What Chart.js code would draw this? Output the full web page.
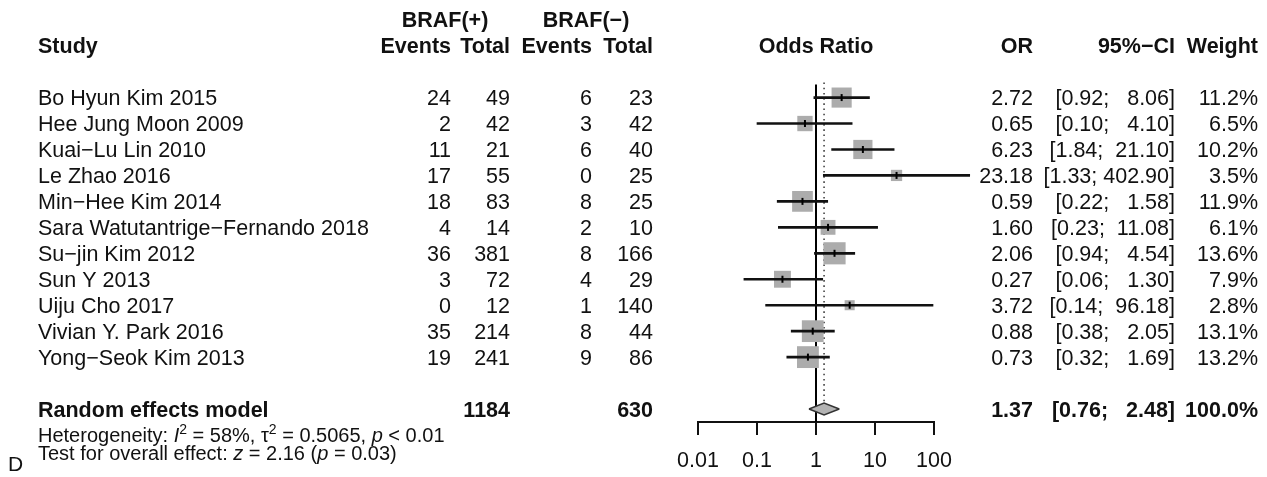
<!DOCTYPE html>
<html>
<head>
<meta charset="utf-8">
<title>BRAF forest plot</title>
<script src="https://cdn.jsdelivr.net/npm/chart.js"></script>
<style>
  html, body { margin: 0; padding: 0; background: #fff; }
  canvas { display: block; }
</style>
</head>
<body>
<canvas id="forest" width="1267" height="477"></canvas>
<script>
const studies = [
  'Bo Hyun Kim 2015', 'Hee Jung Moon 2009', 'Kuai\u2212Lu Lin 2010', 'Le Zhao 2016',
  'Min\u2212Hee Kim 2014', 'Sara Watutantrige\u2212Fernando 2018', 'Su\u2212jin Kim 2012',
  'Sun Y 2013', 'Uiju Cho 2017', 'Vivian Y. Park 2016', 'Yong\u2212Seok Kim 2013',
];
const eventsPos = [24, 2, 11, 17, 18, 4, 36, 3, 0, 35, 19];
const totalPos = [49, 42, 21, 55, 83, 14, 381, 72, 12, 214, 241];
const eventsNeg = [6, 3, 6, 0, 8, 2, 8, 4, 1, 8, 9];
const totalNeg = [23, 42, 40, 25, 25, 10, 166, 29, 140, 44, 86];
const oddsRatios = [2.72, 0.65, 6.23, 23.18, 0.59, 1.60, 2.06, 0.27, 3.72, 0.88, 0.73];
const ciLower = [0.92, 0.10, 1.84, 1.33, 0.22, 0.23, 0.94, 0.06, 0.14, 0.38, 0.32];
const ciUpper = [8.06, 4.10, 21.10, 402.90, 1.58, 11.08, 4.54, 1.30, 96.18, 2.05, 1.69];
const weights = [11.2, 6.5, 10.2, 3.5, 11.9, 6.1, 13.6, 7.9, 2.8, 13.1, 13.2];

const pooledOR = 1.37;
const pooledLower = 0.76;
const pooledUpper = 2.48;
const pooledTotals = [1184, 630];
const xTicks = [0.01, 0.1, 1, 10, 100];

const hetText = [
  ['Heterogeneity: ', ''], ['I', 'italic'], ['2', 'sup'], [' = 58%, ', ''],
  ['\u03c4', ''], ['2', 'sup'], [' = 0.5065, ', ''], ['p', 'italic'], [' < 0.01', ''],
];
const testText = [
  ['Test for overall effect: ', ''], ['z', 'italic'], [' = 2.16 (', ''],
  ['p', 'italic'], [' = 0.03)', ''],
];

const FONT = '"Liberation Sans", Arial, sans-serif';
const INK = '#111';
const TEXT_SIZE = 21.5;
const pooledRow = studies.length + 1;
const DIAMOND_HALF = 0.23;
const SQUARE_SCALE = 4.25;

Chart.defaults.font.family = FONT;

function put(ctx, str, x, y, align, weight, size) {
  const s = size || TEXT_SIZE;
  ctx.font = `${weight || 'normal'} ${s}px ${FONT}`;
  ctx.textAlign = align || 'left';
  ctx.textBaseline = 'alphabetic';
  ctx.fillStyle = INK;
  ctx.fillText(str, x, y + s * 0.36);
}

function putRich(ctx, parts, x, y, size) {
  let cx = x;
  ctx.textAlign = 'left';
  ctx.textBaseline = 'alphabetic';
  ctx.fillStyle = INK;
  parts.forEach(([str, kind]) => {
    const s = kind === 'sup' ? Math.round(size * 0.7) : size;
    ctx.font = `${kind === 'italic' ? 'italic ' : ''}${s}px ${FONT}`;
    const dy = kind === 'sup' ? -size * 0.4 : 0;
    ctx.fillText(str, cx, y + size * 0.36 + dy);
    cx += ctx.measureText(str).width;
  });
}

function ciLabel(lo, hi) {
  return `[${lo.toFixed(2)}; ${hi.toFixed(2).padStart(6)}]`;
}

const tablePlugin = {
  id: 'forestTable',
  afterDraw(chart) {
    const { ctx } = chart;
    const y = chart.scales.y;
    const row = (i) => y.getPixelForValue(i);

    ctx.save();
    put(ctx, 'BRAF(+)', 445, row(-3), 'center', 'bold');
    put(ctx, 'BRAF(\u2212)', 586, row(-3), 'center', 'bold');

    const h = row(-2);
    put(ctx, 'Study', 38, h, 'left', 'bold');
    put(ctx, 'Events', 451, h, 'right', 'bold');
    put(ctx, 'Total', 510, h, 'right', 'bold');
    put(ctx, 'Events', 592, h, 'right', 'bold');
    put(ctx, 'Total', 653, h, 'right', 'bold');
    put(ctx, 'Odds Ratio', 816, h, 'center', 'bold');
    put(ctx, 'OR', 1033, h, 'right', 'bold');
    put(ctx, '95%\u2212CI', 1175, h, 'right', 'bold');
    put(ctx, 'Weight', 1258, h, 'right', 'bold');

    studies.forEach((name, i) => {
      const r = row(i);
      put(ctx, name, 38, r, 'left');
      put(ctx, String(eventsPos[i]), 451, r, 'right');
      put(ctx, String(totalPos[i]), 510, r, 'right');
      put(ctx, String(eventsNeg[i]), 592, r, 'right');
      put(ctx, String(totalNeg[i]), 653, r, 'right');
      put(ctx, oddsRatios[i].toFixed(2), 1033, r, 'right');
      put(ctx, ciLabel(ciLower[i], ciUpper[i]), 1175, r, 'right');
      put(ctx, weights[i].toFixed(1) + '%', 1258, r, 'right');
    });

    const p = row(pooledRow);
    put(ctx, 'Random effects model', 38, p, 'left', 'bold');
    put(ctx, String(pooledTotals[0]), 510, p, 'right', 'bold');
    put(ctx, String(pooledTotals[1]), 653, p, 'right', 'bold');
    put(ctx, pooledOR.toFixed(2), 1033, p, 'right', 'bold');
    put(ctx, ciLabel(pooledLower, pooledUpper), 1175, p, 'right', 'bold');
    put(ctx, '100.0%', 1258, p, 'right', 'bold');

    putRich(ctx, hetText, 38, row(pooledRow + 1), 20);
    putRich(ctx, testText, 38, row(pooledRow + 1.68), 20);
    put(ctx, 'D', 8, row(pooledRow + 2.1), 'left', 'normal', 21);
    ctx.restore();
  },
};

const rows = studies.map((s, i) => i);

// eslint-disable-next-line no-unused-vars
const chart = new Chart(document.getElementById('forest'), {
  type: 'scatter',
  data: {
    datasets: [
      {
        // point estimate marks inside the squares
        data: rows.map((i) => ({ x: oddsRatios[i], y: i })),
        pointStyle: 'line',
        pointRotation: 90,
        pointRadius: 3.5,
        pointBorderWidth: 2,
        pointBorderColor: '#000',
        order: 0,
      },
      {
        type: 'bar',
        indexAxis: 'y',
        data: rows.map((i) => ({ x: [ciLower[i], ciUpper[i]], y: i })),
        backgroundColor: '#111',
        borderWidth: 0,
        barThickness: 2,
        clip: false,
        order: 1,
      },
      {
        type: 'line',
        data: [
          { x: pooledLower, y: pooledRow },
          { x: pooledOR, y: pooledRow - DIAMOND_HALF },
          { x: pooledUpper, y: pooledRow },
        ],
        borderColor: '#333',
        borderWidth: 1.5,
        backgroundColor: '#b3b3b3',
        fill: { value: pooledRow },
        pointRadius: 0,
        tension: 0,
        order: 2,
      },
      {
        type: 'line',
        data: [
          { x: pooledLower, y: pooledRow },
          { x: pooledOR, y: pooledRow + DIAMOND_HALF },
          { x: pooledUpper, y: pooledRow },
        ],
        borderColor: '#333',
        borderWidth: 1.5,
        backgroundColor: '#b3b3b3',
        fill: { value: pooledRow },
        pointRadius: 0,
        tension: 0,
        order: 2,
      },
      {
        data: rows.map((i) => ({ x: oddsRatios[i], y: i })),
        pointStyle: 'rect',
        pointRadius: weights.map((w) => SQUARE_SCALE * Math.sqrt(w)),
        pointBackgroundColor: '#acacac',
        pointBorderWidth: 0,
        clip: false,
        order: 3,
      },
      {
        type: 'line',
        data: [{ x: 1, y: -0.5 }, { x: 1, y: pooledRow + 0.5 }],
        borderColor: '#000',
        borderWidth: 2,
        pointRadius: 0,
        clip: false,
        order: 4,
      },
      {
        type: 'line',
        data: [{ x: pooledOR, y: -0.58 }, { x: pooledOR, y: pooledRow - DIAMOND_HALF }],
        borderColor: '#444',
        borderWidth: 1.6,
        borderDash: [1.6, 3.6],
        pointRadius: 0,
        clip: false,
        order: 5,
      },
    ],
  },
  options: {
    responsive: false,
    devicePixelRatio: 1,
    animation: false,
    events: [],
    layout: {
      padding: { left: 698, right: 333, top: 82, bottom: 0 },
    },
    plugins: {
      legend: { display: false },
      tooltip: { enabled: false },
    },
    scales: {
      x: {
        type: 'logarithmic',
        position: 'bottom',
        min: 0.01,
        max: 100,
        offset: false,
        afterBuildTicks: (scale) => {
          scale.ticks = xTicks.map((v) => ({ value: v }));
        },
        afterFit: (scale) => {
          scale.height = 55;
        },
        grid: {
          drawOnChartArea: false,
          drawTicks: true,
          tickLength: 13,
          color: '#111',
          lineWidth: 2,
        },
        border: { display: true, color: '#111', width: 2 },
        ticks: {
          autoSkip: false,
          maxRotation: 0,
          padding: 13,
          color: INK,
          font: { size: 21.5 },
          callback: (v) => String(v),
        },
      },
      y: {
        type: 'linear',
        display: false,
        reverse: true,
        offset: false,
        min: -0.6,
        max: pooledRow + 0.5,
      },
    },
  },
  plugins: [tablePlugin],
});
</script>
</body>
</html>
